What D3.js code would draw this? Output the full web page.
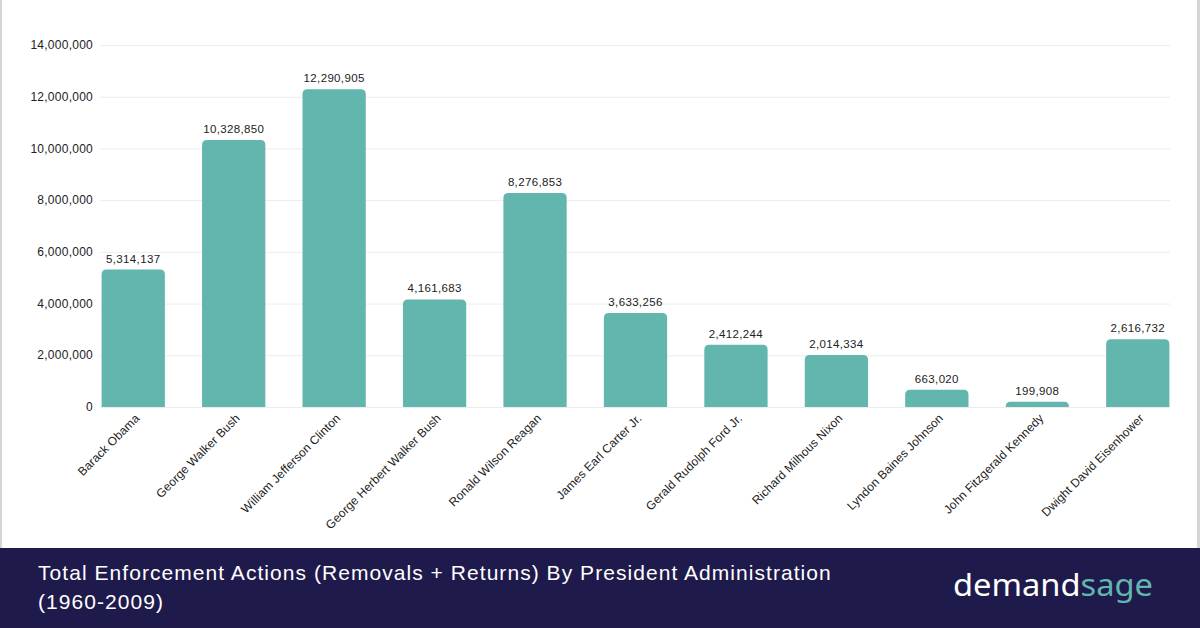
<!DOCTYPE html>
<html>
<head>
<meta http-equiv='Content-Type' content='text/html;charset=utf-8'/>
<title>Enforcement Actions</title>
<script src='https://d3js.org/d3.v7.min.js'></script>
<style>
body {
	margin: 0;
	background: #ffffff;
	font-family: 'Liberation Sans', Arial, sans-serif;
}
</style>
</head>
<body>
<script>
'use strict'

const presidents = ['Barack Obama', 'George Walker Bush', 'William Jefferson Clinton',
	'George Herbert Walker Bush', 'Ronald Wilson Reagan', 'James Earl Carter Jr.',
	'Gerald Rudolph Ford Jr.', 'Richard Milhous Nixon', 'Lyndon Baines Johnson',
	'John Fitzgerald Kennedy', 'Dwight David Eisenhower']
const actions = [5314137, 10328850, 12290905, 4161683, 8276853, 3633256,
	2412244, 2014334, 663020, 199908, 2616732]
const yTicks = [0, 2000000, 4000000, 6000000, 8000000, 10000000, 12000000, 14000000]
const title = ['Total Enforcement Actions (Removals + Returns) By President Administration', '(1960-2009)']

const width = 1200
const height = 628
const teal = '#62b6ae'

const svg = d3.select('body').append('svg')
	.attr('width', width)
	.attr('height', height)

svg.append('rect')
	.attr('width', width)
	.attr('height', height)
	.attr('fill', '#ffffff')

// faint frame at the sides
svg.append('rect').attr('x', 0).attr('y', 0).attr('width', 2).attr('height', 548).attr('fill', '#d6d6d6')
svg.append('rect').attr('x', 1197).attr('y', 0).attr('width', 3).attr('height', 548).attr('fill', '#d6d6d6')

const x = d3.scaleBand()
	.domain(presidents)
	.range([83, 1188])
	.paddingInner(0.37)
	.paddingOuter(0.185)

const y = d3.scaleLinear()
	.domain([0, 14000000])
	.range([407, 45])

const fmt = d3.format(',')

// grid
svg.append('g')
	.selectAll('line')
	.data(yTicks)
	.join('line')
	.attr('x1', 100)
	.attr('x2', 1170)
	.attr('y1', d => y(d) + 0.5)
	.attr('y2', d => y(d) + 0.5)
	.attr('stroke', '#ececec')
	.attr('stroke-width', 1)

// y labels
svg.append('g')
	.selectAll('text')
	.data(yTicks)
	.join('text')
	.attr('x', 93)
	.attr('y', d => y(d))
	.attr('dy', '0.35em')
	.attr('text-anchor', 'end')
	.attr('font-size', 12)
	.attr('letter-spacing', 0.25)
	.attr('fill', '#222222')
	.text(d => fmt(d))

// bars with rounded tops
function barPath(x0, w, yTop, yBase, r)
{
	r = Math.min(r, (yBase - yTop), w / 2)
	return 'M' + x0 + ',' + yBase +
		'V' + (yTop + r) +
		'Q' + x0 + ',' + yTop + ' ' + (x0 + r) + ',' + yTop +
		'H' + (x0 + w - r) +
		'Q' + (x0 + w) + ',' + yTop + ' ' + (x0 + w) + ',' + (yTop + r) +
		'V' + yBase + 'Z'
}

const data = presidents.map((p, i) => ({name: p, value: actions[i]}))

svg.append('g')
	.selectAll('path')
	.data(data)
	.join('path')
	.attr('d', d => barPath(x(d.name), x.bandwidth(), y(d.value), y(0), 5))
	.attr('fill', teal)

// value labels
svg.append('g')
	.selectAll('text')
	.data(data)
	.join('text')
	.attr('x', d => x(d.name) + x.bandwidth() / 2)
	.attr('y', d => y(d.value) - 7)
	.attr('text-anchor', 'middle')
	.attr('font-size', 11.5)
	.attr('letter-spacing', 0.35)
	.attr('fill', '#222222')
	.text(d => fmt(d.value))

// category labels
svg.append('g')
	.selectAll('text')
	.data(presidents)
	.join('text')
	.attr('transform', d => 'translate(' + (x(d) + x.bandwidth() / 2 + 4) + ',416) rotate(-45)')
	.attr('text-anchor', 'end')
	.attr('dy', '0.35em')
	.attr('font-size', 12)
	.attr('letter-spacing', 0.1)
	.attr('fill', '#222222')
	.text(d => d)

// footer
svg.append('rect')
	.attr('x', 0)
	.attr('y', 548)
	.attr('width', width)
	.attr('height', height - 548)
	.attr('fill', '#1f1a4c')

svg.append('g')
	.selectAll('text')
	.data(title)
	.join('text')
	.attr('x', 38)
	.attr('y', (d, i) => 580 + i * 29)
	.attr('font-size', 21)
	.attr('letter-spacing', 1.05)
	.attr('fill', '#ffffff')
	.text(d => d)

const logo = svg.append('text')
	.attr('x', 953)
	.attr('y', 596)
	.attr('font-family', "'Noto Sans', sans-serif")
	.attr('font-size', 31)
	.attr('textLength', 200)
	.attr('lengthAdjust', 'spacingAndGlyphs')
	.attr('fill', '#ffffff')
logo.append('tspan').text('demand')
logo.append('tspan').attr('fill', teal).text('sage')
</script>
</body>
</html>
